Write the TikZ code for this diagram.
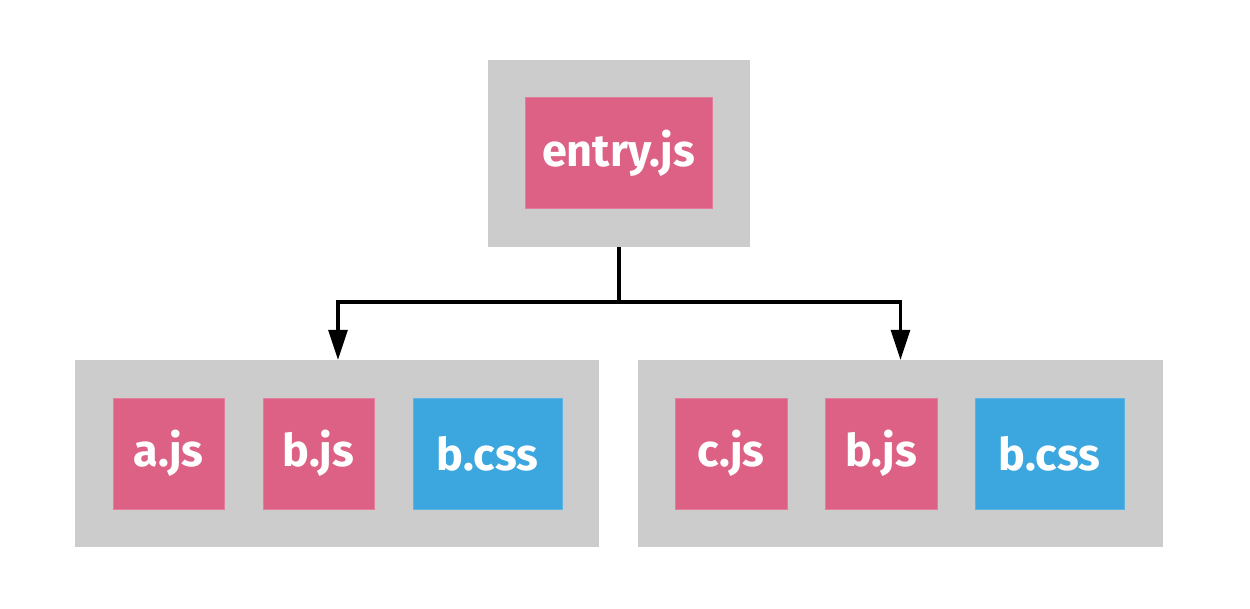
\documentclass[tikz,border=0pt]{standalone}
\usepackage{fontspec}
\setmainfont{Fira Sans}
\usetikzlibrary{arrows.meta}
\definecolor{boxgray}{HTML}{CCCCCC}
\definecolor{jspink}{HTML}{DD6085}
\definecolor{jspinkline}{HTML}{E27E9C}
\definecolor{cssblue}{HTML}{3BA7DE}
\definecolor{cssblueline}{HTML}{5BB5E2}
\begin{document}
\begin{tikzpicture}[x=1pt,y=-1pt,
  group/.style={fill=boxgray, draw=none, minimum height=187pt, inner sep=0pt},
  file/.style={minimum height=111pt, inner sep=0pt, text=white,
    font=\fontsize{45}{54}\selectfont\bfseries, line width=1pt},
  js/.style={file, fill=jspink, draw=jspinkline},
  css/.style={file, fill=cssblue, draw=cssblueline},
  conn/.style={line width=3.2pt, -{Triangle[width=19pt,length=30pt]}}]
\useasboundingbox (0,0) rectangle (1250,609);
\node[group, minimum width=262pt] (top) at (619,153.5) {};
\node[js, minimum width=187pt] (entry) at (618.5,153.5) {entry.js};
\node[group, minimum width=524pt] (left) at (337,453.5) {};
\node[group, minimum width=525pt] (right) at (900.5,453.5) {};
\node[js, minimum width=111pt] (a) at (168.5,453.5) {a.js};
\node[js, minimum width=111pt] (b1) at (318.5,453.5) {b.js};
\node[css, minimum width=149pt] (c1) at (487.5,453.5) {b.css};
\node[js, minimum width=112pt] (c) at (731,453.5) {c.js};
\node[js, minimum width=112pt] (b2) at (881,453.5) {b.js};
\node[css, minimum width=149pt] (c2) at (1049.5,453.5) {b.css};
\coordinate (split) at (619,302);
\draw[line width=3.2pt] (top.south) -- (split);
\draw[conn] (split) -| ([xshift=1pt]left.north);
\draw[conn] (split) -| (right.north);
\end{tikzpicture}
\end{document}
